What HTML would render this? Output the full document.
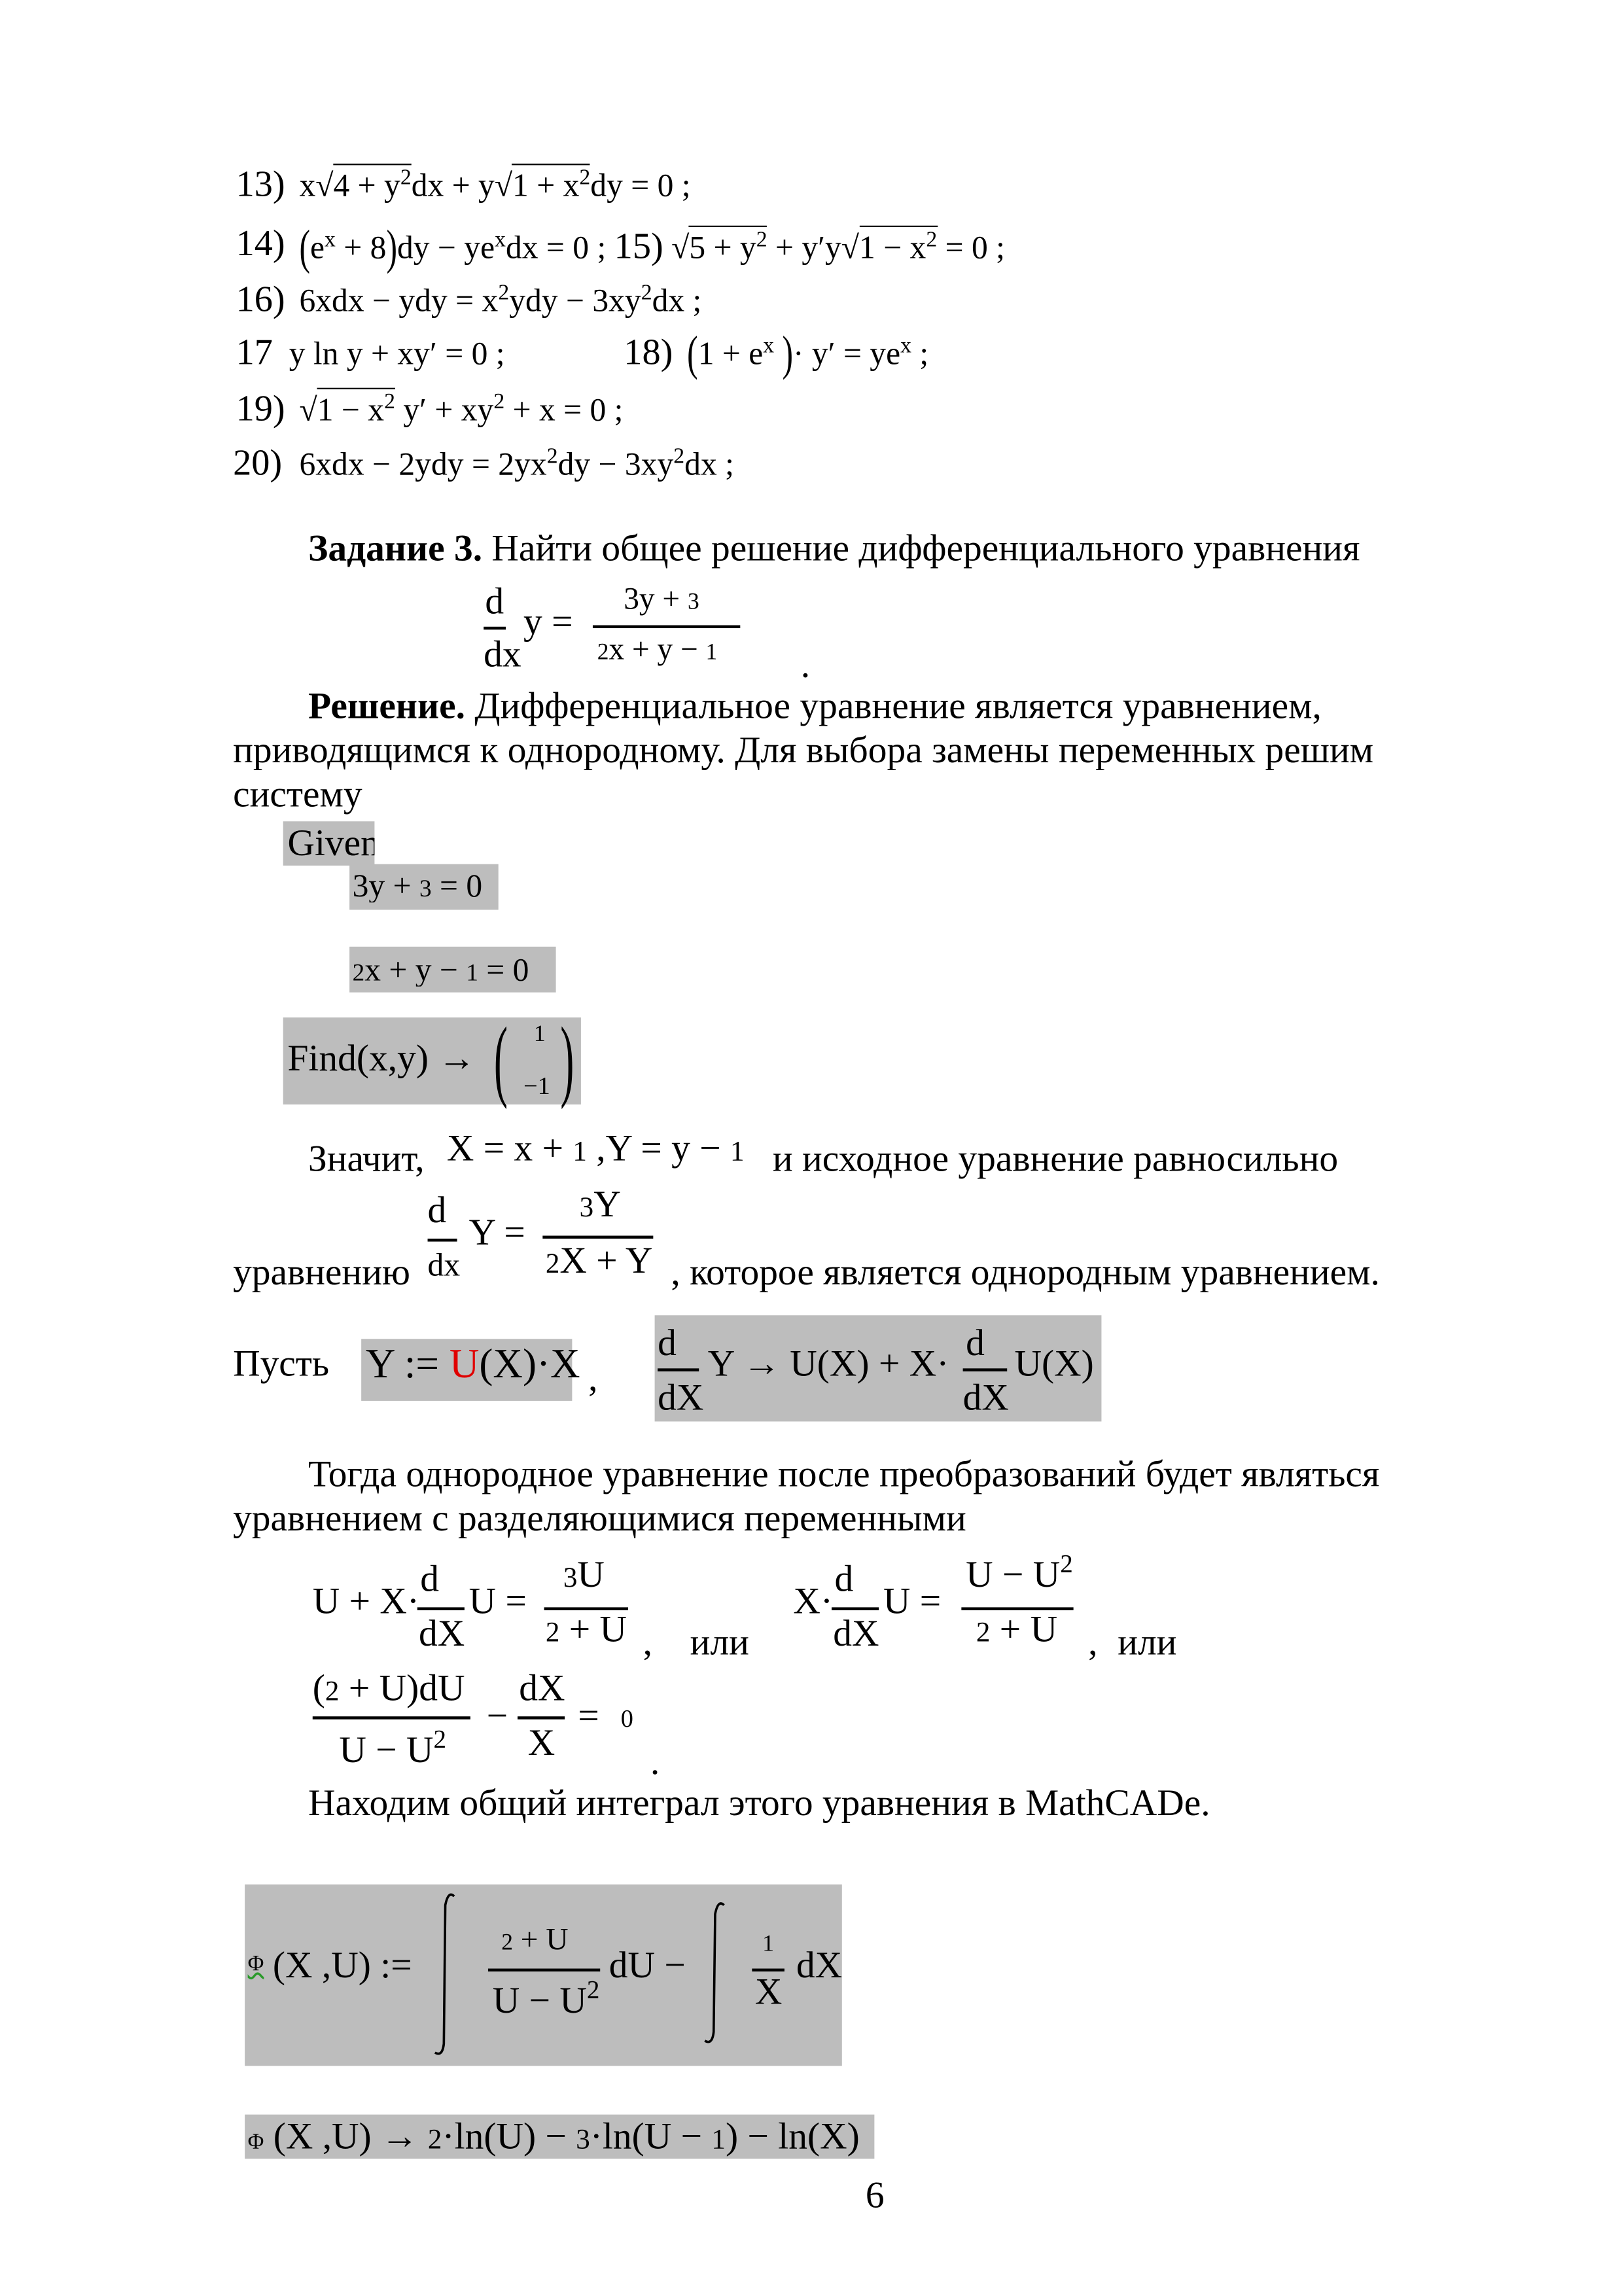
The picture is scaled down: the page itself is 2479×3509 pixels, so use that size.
<!DOCTYPE html>
<html><head><meta charset="utf-8">
<style>
html,body{margin:0;padding:0;background:#fff;}
body{width:2479px;height:3508px;overflow:hidden;position:relative;}
#p{position:absolute;left:0;top:0;width:1100px;height:1557px;transform:scale(2.2536);transform-origin:0 0;font-family:"Liberation Serif","Times New Roman",serif;color:#000;}
.t{position:absolute;white-space:nowrap;line-height:1;}
.b{font-size:25.5px;}
.e{font-size:22px;}
.n{font-size:25px;}
.g{position:absolute;background:#bdbdbd;}
.ln{position:absolute;height:1.6px;background:#000;}
.ov{border-top:1.3px solid #000;padding-top:1px;}
sup{font-size:68%;vertical-align:0;position:relative;top:-0.55em;}
.sm{font-size:75%;}
.bp{display:inline-block;transform:scaleY(1.5);}
</style></head><body><div id="p">

<div class="t n" style="left:160px;top:113px">13)</div>
<div class="t e" style="left:203px;top:115px">x√<span class="ov">4 + y<sup>2</sup></span>dx + y√<span class="ov">1 + x<sup>2</sup></span>dy = 0 ;</div>

<div class="t n" style="left:160px;top:153px">14)</div>
<div class="t e" style="left:203px;top:155px"><span class="bp">(</span>e<sup>x</sup> + 8<span class="bp">)</span>dy − ye<sup>x</sup>dx = 0 ; <span style="font-size:25px">15)</span> √<span class="ov">5 + y<sup>2</sup></span> + y′y√<span class="ov">1 − x<sup>2</sup></span> = 0 ;</div>

<div class="t n" style="left:160px;top:191px">16)</div>
<div class="t e" style="left:203px;top:193px">6xdx − ydy = x<sup>2</sup>ydy − 3xy<sup>2</sup>dx ;</div>

<div class="t n" style="left:160px;top:227px">17</div>
<div class="t e" style="left:196px;top:229px">y ln y + xy′ = 0 ;</div>
<div class="t n" style="left:423px;top:227px">18)</div>
<div class="t e" style="left:466px;top:229px"><span class="bp">(</span>1 + e<sup>x</sup> <span class="bp">)</span>· y′ = ye<sup>x</sup> ;</div>

<div class="t n" style="left:160px;top:265px">19)</div>
<div class="t e" style="left:203px;top:267px">√<span class="ov">1 − x<sup>2</sup></span> y′ + xy<sup>2</sup> + x = 0 ;</div>

<div class="t n" style="left:158px;top:302px">20)</div>
<div class="t e" style="left:203px;top:304px">6xdx − 2ydy = 2yx<sup>2</sup>dy − 3xy<sup>2</sup>dx ;</div>

<div class="t b" style="left:209px;top:359px"><b>Задание 3.</b> Найти общее решение дифференциального уравнения</div>
<div class="t b" style="left:329px;top:395px">d</div>
<div class="ln" style="left:328px;top:425px;width:15px"></div>
<div class="t b" style="left:328px;top:431px">dx</div>
<div class="t b" style="left:355px;top:409px">y =</div>
<div class="t" style="left:423px;top:396px;font-size:21px">3y <span>+</span> <span class="sm">3</span></div>
<div class="ln" style="left:402px;top:424px;width:100px"></div>
<div class="t" style="left:405px;top:430px;font-size:21px"><span class="sm">2</span>x + y − <span class="sm">1</span></div>
<div class="t b" style="left:543px;top:438px">.</div>

<div class="t b" style="left:209px;top:466px"><b>Решение.</b> Дифференциальное уравнение является уравнением,</div>
<div class="t b" style="left:158px;top:496px">приводящимся к однородному. Для выбора замены переменных решим</div>
<div class="t b" style="left:158px;top:526px">систему</div>

<div class="g" style="left:192px;top:557px;width:62px;height:30px"></div>
<div class="t b" style="left:195px;top:559px;width:59px;overflow:hidden">Given</div>
<div class="g" style="left:237px;top:586px;width:101px;height:31px"></div>
<div class="t" style="left:239px;top:590px;font-size:22px;width:99px;overflow:hidden">3y + <span class="sm">3</span> = 0</div>
<div class="g" style="left:237px;top:642px;width:140px;height:31px"></div>
<div class="t" style="left:239px;top:647px;font-size:22px;width:138px;overflow:hidden"><span class="sm">2</span>x + y − <span class="sm">1</span> = 0</div>
<div class="g" style="left:192px;top:690px;width:202px;height:59px"></div>
<div class="t b" style="left:195px;top:705px">Find(x,y) →</div>
<div class="t" style="left:335px;top:688px;font-size:62px;transform:scaleX(0.45);transform-origin:0 0">(</div>
<div class="t" style="left:380px;top:688px;font-size:62px;transform:scaleX(0.45);transform-origin:0 0">)</div>
<div class="t" style="left:362px;top:694px;font-size:16px">1</div>
<div class="t" style="left:355px;top:728px;font-size:17px">−1</div>

<div class="t b" style="left:209px;top:773px">Значит,</div>
<div class="t b" style="left:303px;top:766px">X = x + <span class="sm">1</span> ,Y = y − <span class="sm">1</span></div>
<div class="t b" style="left:524px;top:773px">и исходное уравнение равносильно</div>

<div class="t b" style="left:290px;top:808px">d</div>
<div class="ln" style="left:290px;top:840px;width:20px"></div>
<div class="t" style="left:290px;top:847px;font-size:22px">dx</div>
<div class="t b" style="left:318px;top:823px">Y =</div>
<div class="t b" style="left:393px;top:804px"><span class="sm">3</span>Y</div>
<div class="ln" style="left:368px;top:838px;width:75px"></div>
<div class="t b" style="left:370px;top:842px"><span class="sm">2</span>X + Y</div>
<div class="t b" style="left:158px;top:850px">уравнению</div>
<div class="t b" style="left:455px;top:850px">, которое является однородным уравнением.</div>

<div class="t b" style="left:158px;top:912px">Пусть</div>
<div class="g" style="left:245px;top:908px;width:143px;height:42px"></div>
<div class="t" style="left:248px;top:912px;font-size:28px;">Y := <span style="color:#e00000">U</span>(X)·X</div>
<div class="t b" style="left:399px;top:922px">,</div>
<div class="g" style="left:444px;top:892px;width:303px;height:72px"></div>
<div class="t b" style="left:446px;top:898px">d</div>
<div class="ln" style="left:446px;top:928px;width:28px"></div>
<div class="t b" style="left:446px;top:935px">dX</div>
<div class="t b" style="left:480px;top:912px">Y → U(X) + X·</div>
<div class="t b" style="left:655px;top:898px">d</div>
<div class="ln" style="left:653px;top:928px;width:30px"></div>
<div class="t b" style="left:653px;top:935px">dX</div>
<div class="t b" style="left:688px;top:912px">U(X)</div>

<div class="t b" style="left:209px;top:987px">Тогда однородное уравнение после преобразований будет являться</div>
<div class="t b" style="left:158px;top:1017px">уравнением с разделяющимися переменными</div>

<div class="t b" style="left:212px;top:1073px">U + X·</div>
<div class="t b" style="left:285px;top:1058px">d</div>
<div class="ln" style="left:283px;top:1090px;width:32px"></div>
<div class="t b" style="left:284px;top:1095px">dX</div>
<div class="t b" style="left:318px;top:1073px">U =</div>
<div class="t b" style="left:382px;top:1055px"><span class="sm">3</span>U</div>
<div class="ln" style="left:369px;top:1090px;width:57px"></div>
<div class="t b" style="left:370px;top:1092px"><span class="sm">2</span> + U</div>
<div class="t b" style="left:436px;top:1101px">,</div>
<div class="t b" style="left:468px;top:1101px">или</div>

<div class="t b" style="left:538px;top:1073px">X·</div>
<div class="t b" style="left:566px;top:1058px">d</div>
<div class="ln" style="left:564px;top:1090px;width:32px"></div>
<div class="t b" style="left:565px;top:1095px">dX</div>
<div class="t b" style="left:599px;top:1073px">U =</div>
<div class="t b" style="left:655px;top:1055px">U − U<sup>2</sup></div>
<div class="ln" style="left:652px;top:1090px;width:76px"></div>
<div class="t b" style="left:662px;top:1092px"><span class="sm">2</span> + U</div>
<div class="t b" style="left:738px;top:1101px">,</div>
<div class="t b" style="left:758px;top:1101px">или</div>

<div class="t b" style="left:212px;top:1132px">(<span class="sm">2</span> + U)dU</div>
<div class="ln" style="left:212px;top:1164px;width:107px"></div>
<div class="t b" style="left:230px;top:1174px">U − U<sup>2</sup></div>
<div class="t b" style="left:330px;top:1151px">−</div>
<div class="t b" style="left:352px;top:1132px">dX</div>
<div class="ln" style="left:351px;top:1164px;width:32px"></div>
<div class="t b" style="left:358px;top:1169px">X</div>
<div class="t b" style="left:392px;top:1151px">=</div>
<div class="t" style="left:421px;top:1157px;font-size:17px">0</div>
<div class="t b" style="left:441px;top:1182px">.</div>

<div class="t b" style="left:209px;top:1210px">Находим общий интеграл этого уравнения в MathCADe.</div>

<div class="g" style="left:166px;top:1278px;width:405px;height:123px"></div>
<div class="t" style="left:168px;top:1325px;font-size:15px;text-decoration:underline wavy #2a9a2a">Φ</div>
<div class="t b" style="left:185px;top:1320px">(X ,U) :=</div>
<svg style="position:absolute;left:290px;top:1282px" width="24" height="114" viewBox="0 0 24 114"><path d="M18 4 Q14 0 12 10 L11 104 Q10 113 5 110" fill="none" stroke="#000" stroke-width="1.6"/></svg>
<svg style="position:absolute;left:473px;top:1288px" width="24" height="100" viewBox="0 0 24 100"><path d="M18 4 Q14 0 12 10 L11 90 Q10 99 5 96" fill="none" stroke="#000" stroke-width="1.6"/></svg>
<div class="t" style="left:340px;top:1305px;font-size:21px"><span class="sm">2</span> + U</div>
<div class="ln" style="left:331px;top:1335px;width:76px"></div>
<div class="t b" style="left:334px;top:1344px">U − U<sup>2</sup></div>
<div class="t b" style="left:413px;top:1320px">dU −</div>
<div class="t" style="left:517px;top:1311px;font-size:16px">1</div>
<div class="ln" style="left:510px;top:1335px;width:22px"></div>
<div class="t b" style="left:512px;top:1338px">X</div>
<div class="t b" style="left:540px;top:1320px">dX</div>

<div class="g" style="left:166px;top:1434px;width:427px;height:30px"></div>
<div class="t b" style="left:168px;top:1436px"><span style="font-size:15px">Φ</span> (X ,U) → <span class="sm">2</span>·ln(U) − <span class="sm">3</span>·ln(U − <span class="sm">1</span>) − ln(X)</div>

<div class="t b" style="left:587px;top:1476px">6</div>
</div></body></html>
